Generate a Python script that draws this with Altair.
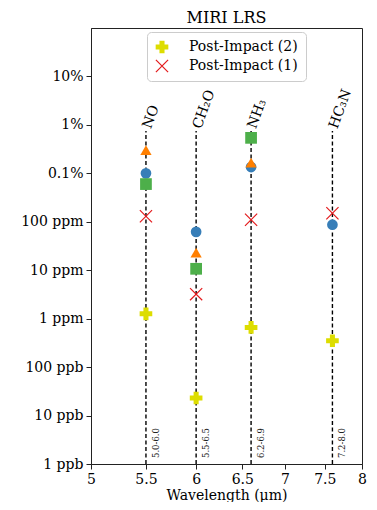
import altair as alt
import pandas as pd

# ---- data ----
molecules = ["NO", "CH₂O", "NH₃", "HC₃N"]
wavelengths = [5.5, 6.0, 6.6, 7.6]
band_ranges = ["5.0-6.0", "5.5-6.5", "6.2-6.9", "7.2-8.0"]

circle_vals = [1.0e-3, 6.2e-5, 1.35e-3, 8.7e-5]
triangle_vals = [3.0e-3, 2.3e-5, 1.66e-3, None]
square_vals = [6.0e-4, 1.07e-5, 5.4e-3, None]
post1_vals = [1.3e-4, 3.2e-6, 1.1e-4, 1.5e-4]
post2_vals = [1.26e-6, 2.3e-8, 6.6e-7, 3.5e-7]

series_names = ["Series A", "Series B", "Series C", "Post-Impact (1)", "Post-Impact (2)"]
legend_entries = ["Post-Impact (2)", "Post-Impact (1)"]
series_colors = ["#377eb8", "#ff7f00", "#4daf4a", "#e41a1c", "#dddd00"]

line_bottom = 1e-9
line_top = 7.5e-3

y_ticks = [1e-9, 1e-8, 1e-7, 1e-6, 1e-5, 1e-4, 1e-3, 1e-2, 1e-1]
y_tick_labels = ["1 ppb", "10 ppb", "100 ppb", "1 ppm", "10 ppm", "100 ppm", "0.1%", "1%", "10%"]
x_ticks = [5, 5.5, 6, 6.5, 7, 7.5, 8]

# thin "x" drawn as a filled outline
X_PATH = ("M-0.93,-1.07L1.07,0.93L0.93,1.07L-1.07,-0.93Z"
          "M-0.93,1.07L-1.07,0.93L0.93,-1.07L1.07,-0.93Z")
series_shapes = ["circle", "triangle-up", "square", X_PATH, "cross"]
series_sizes = [115, 160, 135, 160, 185]

FONT = "DejaVu Serif"

rows = []
for name, vals in zip(series_names, [circle_vals, triangle_vals, square_vals, post1_vals, post2_vals]):
    for w, v in zip(wavelengths, vals):
        if v is not None:
            rows.append({"wavelength": w, "value": v, "series": name})
points_df = pd.DataFrame(rows)
points_df["order"] = points_df["series"].map({n: i for i, n in enumerate(series_names)})

lines_df = pd.DataFrame({
    "wavelength": wavelengths,
    "molecule": molecules,
    "band": band_ranges,
    "ymin": [line_bottom] * len(wavelengths),
    "ymax": [line_top] * len(wavelengths),
})

label_js = "[" + ",".join("'%s'" % s for s in y_tick_labels) + "]"

x_enc = alt.X(
    "wavelength:Q",
    scale=alt.Scale(type="log", domain=[5, 8], nice=False),
    axis=alt.Axis(values=x_ticks, format="~g", labelFlush=False, labelOverlap=False,
                  grid=False, title="Wavelength (μm)", tickSize=5, labelPadding=3,
                  titlePadding=2, labelFont=FONT, labelFontSize=14, titleFont=FONT,
                  titleFontSize=14, titleFontWeight="normal", labelColor="black",
                  titleColor="black"),
)
y_scale = alt.Scale(type="log", domain=[1e-9, 1], nice=False)
y_axis = alt.Axis(values=y_ticks, labelExpr=label_js + "[round(log(datum.value)/LN10)+9]",
                  grid=False, title=None, labelOverlap=False, tickSize=5, labelPadding=3,
                  labelFlush=False, labelFont=FONT, labelFontSize=14, labelColor="black")

rules = alt.Chart(lines_df).mark_rule(
    color="black", strokeDash=[4, 2.5], strokeWidth=1.4
).encode(
    x=x_enc,
    y=alt.Y("ymin:Q", scale=y_scale, axis=y_axis),
    y2="ymax:Q",
)

top_text = alt.Chart(lines_df).mark_text(
    angle=290, align="left", baseline="middle", dx=3, font=FONT, fontSize=14, color="black"
).encode(
    x=alt.X("wavelength:Q"),
    y=alt.Y("ymax:Q"),
    text="molecule:N",
)

bottom_text = alt.Chart(lines_df).mark_text(
    angle=270, align="left", baseline="middle", dx=6, dy=10, font=FONT, fontSize=8.5, color="#222"
).encode(
    x=alt.X("wavelength:Q"),
    y=alt.Y("ymin:Q"),
    text="band:N",
)

legend_kw = dict(
    values=legend_entries, title=None, orient="none", legendX=56, legendY=4,
    labelFont=FONT, labelFontSize=14, labelColor="black", symbolSize=170,
    fillColor="white", strokeColor="#cccccc", cornerRadius=4, padding=8,
    rowPadding=5, labelOffset=20, symbolStrokeWidth=0,
)

points = alt.Chart(points_df).mark_point(filled=True, opacity=1, strokeWidth=0).encode(
    x=alt.X("wavelength:Q"),
    y=alt.Y("value:Q"),
    color=alt.Color(
        "series:N",
        scale=alt.Scale(domain=series_names, range=series_colors),
        legend=alt.Legend(**legend_kw),
    ),
    shape=alt.Shape("series:N", scale=alt.Scale(domain=series_names, range=series_shapes),
                    legend=alt.Legend(**legend_kw)),
    size=alt.Size("series:N", scale=alt.Scale(domain=series_names, range=series_sizes), legend=None),
    order=alt.Order("order:Q"),
)

chart = alt.layer(rules, top_text, bottom_text, points).properties(
    width=271,
    height=436,
    title=alt.TitleParams("MIRI LRS", font=FONT, fontSize=16, fontWeight="normal",
                          color="black", offset=2, anchor="middle"),
    autosize=alt.AutoSizeParams(type="none"),
    padding={"left": 83, "top": 20, "right": 7, "bottom": 38},
).configure_view(
    stroke="#222", strokeWidth=1
).configure_axis(
    labelFont=FONT, titleFont=FONT, domainColor="#222", tickColor="#222",
).configure_legend(
    labelFont=FONT
).configure_title(
    font=FONT
)

chart.save("out.html", embed_options={"renderer": "svg", "actions": False})
